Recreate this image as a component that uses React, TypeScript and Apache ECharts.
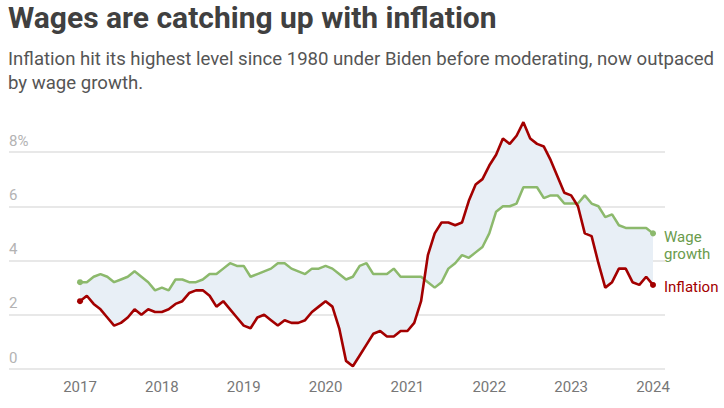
import React, { useEffect, useRef } from "react";
import * as echarts from "echarts";

// Monthly readings, January 2017 through January 2024 (85 months)
const startYear = 2017;
const yearTicks = [2017, 2018, 2019, 2020, 2021, 2022, 2023, 2024];

const wageGrowth = [
  3.2, 3.2, 3.4, 3.5, 3.4, 3.2, 3.3, 3.4, 3.6, 3.4, 3.2, 2.9,
  3.0, 2.9, 3.3, 3.3, 3.2, 3.2, 3.3, 3.5, 3.5, 3.7, 3.9, 3.8,
  3.8, 3.4, 3.5, 3.6, 3.7, 3.9, 3.9, 3.7, 3.6, 3.5, 3.7, 3.7,
  3.8, 3.7, 3.5, 3.3, 3.4, 3.8, 3.9, 3.5, 3.5, 3.5, 3.7, 3.4,
  3.4, 3.4, 3.4, 3.2, 3.0, 3.2, 3.7, 3.9, 4.2, 4.1, 4.3, 4.5,
  5.0, 5.8, 6.0, 6.0, 6.1, 6.7, 6.7, 6.7, 6.3, 6.4, 6.4, 6.1,
  6.1, 6.1, 6.4, 6.1, 6.0, 5.6, 5.7, 5.3, 5.2, 5.2, 5.2, 5.2,
  5.0,
];

const inflation = [
  2.5, 2.7, 2.4, 2.2, 1.9, 1.6, 1.7, 1.9, 2.2, 2.0, 2.2, 2.1,
  2.1, 2.2, 2.4, 2.5, 2.8, 2.9, 2.9, 2.7, 2.3, 2.5, 2.2, 1.9,
  1.6, 1.5, 1.9, 2.0, 1.8, 1.6, 1.8, 1.7, 1.7, 1.8, 2.1, 2.3,
  2.5, 2.3, 1.5, 0.3, 0.1, 0.5, 0.9, 1.3, 1.4, 1.2, 1.2, 1.4,
  1.4, 1.7, 2.5, 4.2, 5.0, 5.4, 5.4, 5.3, 5.4, 6.2, 6.8, 7.0,
  7.5, 7.9, 8.5, 8.3, 8.6, 9.1, 8.5, 8.3, 8.2, 7.7, 7.1, 6.5,
  6.4, 6.0, 5.0, 4.9, 3.9, 3.0, 3.2, 3.7, 3.7, 3.2, 3.1, 3.4,
  3.1,
];

const yTicks = [0, 2, 4, 6, 8];

const FONT = "Roboto, 'Noto Sans', sans-serif";
const RED = "#a30000";
const GREEN_LINE = "#8cb96c";
const GREEN_TEXT = "#6a9b4c";
const BAND = "#e8eff6";

// Series points with a dot on the first and last month only
function withEndDots(values: number[], color: string) {
  return values.map((v, i) => {
    const point: any = { value: [i, v] };
    if (i === 0 || i === values.length - 1) {
      point.symbol = "circle";
      point.symbolSize = 6;
      point.itemStyle = { color };
    }
    return point;
  });
}

export default function App() {
  const ref = useRef<HTMLDivElement>(null);

  useEffect(() => {
    document.body.style.margin = "0";
    if (!ref.current) return;
    const chart = echarts.init(ref.current, null, { renderer: "svg" });

    const months = wageGrowth.map((_, i) => i);

    chart.setOption({
      animation: false,
      textStyle: { fontFamily: FONT },
      grid: { left: 9, right: 59, top: 152, bottom: 39, containLabel: false },
      xAxis: {
        type: "value",
        min: -10.41,
        max: 85.76,
        axisLine: { show: false },
        axisTick: { show: false },
        splitLine: { show: false },
        axisLabel: {
          customValues: yearTicks.map((y) => (y - startYear) * 12),
          formatter: (v: number) => String(startYear + Math.round(v / 12)),
          color: "#777777",
          fontSize: 15,
          fontFamily: FONT,
          margin: 10,
        },
      },
      yAxis: {
        type: "value",
        min: 0,
        max: 8,
        interval: 2,
        axisLine: { show: false },
        axisTick: { show: false },
        splitLine: { show: true, lineStyle: { color: "#e0e0e0", width: 1.5 } },
        axisLabel: {
          inside: true,
          margin: 0,
          verticalAlign: "bottom",
          padding: [0, 0, 4, 0],
          color: "#b3b3b3",
          fontSize: 15,
          fontFamily: FONT,
          formatter: (v: number) => (v === yTicks[yTicks.length - 1] ? `${v}%` : `${v}`),
        },
      },
      series: [
        {
          // shaded gap between the two lines
          type: "custom",
          clip: false,
          silent: true,
          z: 1,
          data: months.map((m) => [m, wageGrowth[m], inflation[m]]),
          renderItem: (params: any, api: any) => {
            if (params.dataIndex !== 0) return null;
            const top = months.map((m) => api.coord([m, wageGrowth[m]]));
            const bottom = months
              .slice()
              .reverse()
              .map((m) => api.coord([m, inflation[m]]));
            return {
              type: "polygon",
              shape: { points: top.concat(bottom) },
              style: { fill: BAND, stroke: null },
            };
          },
        },
        {
          name: "Wage growth",
          type: "line",
          clip: false,
          z: 3,
          symbol: "none",
          data: withEndDots(wageGrowth, GREEN_LINE),
          lineStyle: { color: GREEN_LINE, width: 2.5 },
          itemStyle: { color: GREEN_LINE },
          endLabel: {
            show: true,
            formatter: "Wage\ngrowth",
            color: GREEN_TEXT,
            fontSize: 15,
            lineHeight: 17,
            fontFamily: FONT,
            distance: 11,
            offset: [0, 12],
          },
        },
        {
          name: "Inflation",
          type: "line",
          clip: false,
          z: 4,
          symbol: "none",
          data: withEndDots(inflation, RED),
          lineStyle: { color: RED, width: 2.6 },
          itemStyle: { color: RED },
          endLabel: {
            show: true,
            formatter: "Inflation",
            color: RED,
            fontSize: 15,
            fontFamily: FONT,
            distance: 11,
            offset: [0, 2],
          },
        },
      ],
      graphic: [
        {
          type: "text",
          left: 8,
          top: 2,
          style: {
            text: "Wages are catching up with inflation",
            fontFamily: FONT,
            fontSize: 30,
            fontWeight: "bold",
            fill: "#404040",
          },
        },
        {
          type: "text",
          left: 8,
          top: 47,
          style: {
            text:
              "Inflation hit its highest level since 1980 under Biden before moderating, now outpaced\nby wage growth.",
            fontFamily: FONT,
            fontSize: 18.6,
            lineHeight: 24,
            fill: "#555555",
          },
        },
      ],
    });

    return () => chart.dispose();
  }, []);

  return <div ref={ref} style={{ width: 724, height: 408 }} />;
}
